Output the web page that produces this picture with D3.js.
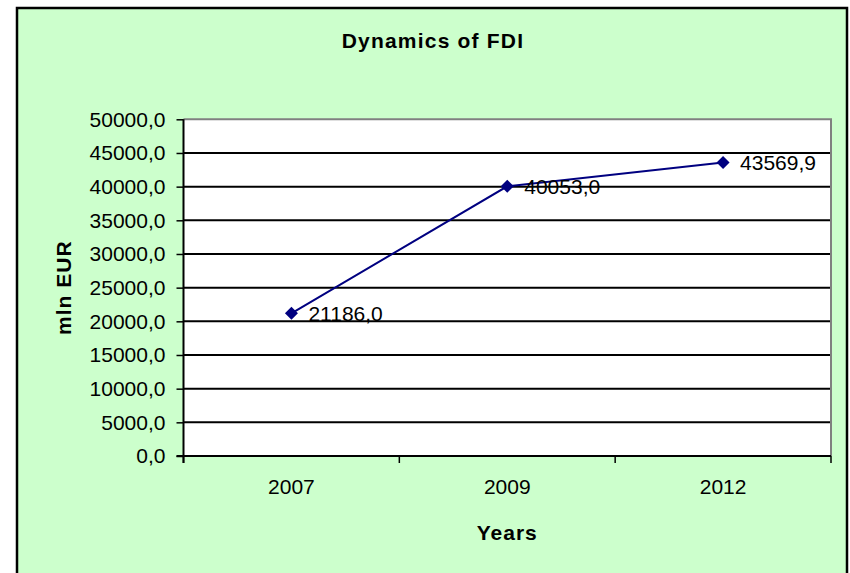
<!DOCTYPE html>
<html>
<head>
<meta charset="utf-8">
<script src="https://cdn.jsdelivr.net/npm/d3@7/dist/d3.min.js"></script>
<style>
  html, body { margin: 0; padding: 0; background: #ffffff; }
  svg { display: block; font-family: Arial, "Liberation Sans", sans-serif; }
</style>
</head>
<body>
<svg id="chart" width="850" height="573"></svg>
<script>
// FDI stock, mln EUR
const years = ["2007", "2009", "2012"];
const fdiValues = [21186.0, 40053.0, 43569.9];
const yTickValues = [0, 5000, 10000, 15000, 20000, 25000, 30000, 35000, 40000, 45000, 50000];

const chartTitle = "Dynamics of FDI";
const xTitle = "Years";
const yTitle = "mln EUR";

const svg = d3.select("#chart");

// decimal comma formatting
const locale = d3.formatLocale({ decimal: ",", thousands: "", grouping: [3], currency: ["", ""] });
const fmt = locale.format(".1f");

// chart area frame
svg.append("rect")
  .attr("x", 17).attr("y", 8)
  .attr("width", 830).attr("height", 620)
  .attr("fill", "#ccffcc")
  .attr("stroke", "#000").attr("stroke-width", 2.5);

const plot = { left: 183.5, right: 831, top: 119.3, bottom: 456 };

const x = d3.scaleBand().domain(years).range([plot.left, plot.right]).paddingInner(0).paddingOuter(0);
const y = d3.scaleLinear().domain([0, 50000]).range([plot.bottom, plot.top]);

// plot background
svg.append("rect")
  .attr("x", plot.left).attr("y", plot.top)
  .attr("width", plot.right - plot.left).attr("height", plot.bottom - plot.top)
  .attr("fill", "#fff");

// horizontal gridlines
svg.append("g")
  .selectAll("line")
  .data(yTickValues.filter(v => v > 0 && v < 50000))
  .join("line")
  .attr("x1", plot.left).attr("x2", plot.right)
  .attr("y1", d => y(d)).attr("y2", d => y(d))
  .attr("stroke", "#000").attr("stroke-width", 2);

// plot border (top/right grey)
svg.append("path")
  .attr("d", `M${plot.left},${plot.top}H${plot.right}V${plot.bottom}`)
  .attr("fill", "none")
  .attr("stroke", "#808080").attr("stroke-width", 2);

// y axis
const yAxis = d3.axisLeft(y).tickValues(yTickValues).tickFormat(fmt).tickSize(7).tickPadding(11);
const gy = svg.append("g").attr("transform", `translate(${plot.left},0)`).call(yAxis);
gy.select(".domain").attr("stroke", "#000").attr("stroke-width", 2).attr("d", `M0,${plot.top}V${plot.bottom + 7}`);
gy.selectAll(".tick line").attr("stroke", "#000").attr("stroke-width", 1.5);
gy.selectAll(".tick text").attr("font-size", 21).attr("fill", "#000")
  .attr("font-family", "Arial, 'Liberation Sans', sans-serif");

// x axis: labels at band centres, ticks at band boundaries
const xAxis = d3.axisBottom(x).tickSize(0).tickPadding(23);
const gx = svg.append("g").attr("transform", `translate(0,${plot.bottom})`).call(xAxis);
gx.select(".domain").remove();
gx.selectAll(".tick text").attr("font-size", 21).attr("fill", "#000")
  .attr("font-family", "Arial, 'Liberation Sans', sans-serif");

const boundaries = years.map(d => x(d)).concat([x.range()[1]]);
svg.append("line")
  .attr("x1", plot.left - 7).attr("x2", plot.right)
  .attr("y1", plot.bottom).attr("y2", plot.bottom)
  .attr("stroke", "#000").attr("stroke-width", 2);
svg.append("g")
  .selectAll("line")
  .data(boundaries)
  .join("line")
  .attr("x1", d => d).attr("x2", d => d)
  .attr("y1", plot.bottom).attr("y2", plot.bottom + 7)
  .attr("stroke", "#000").attr("stroke-width", 1.5);

// series
const points = years.map((d, i) => ({ year: d, value: fdiValues[i] }));
const cx = d => x(d.year) + x.bandwidth() / 2;

svg.append("path")
  .datum(points)
  .attr("fill", "none")
  .attr("stroke", "#000080")
  .attr("stroke-width", 2)
  .attr("d", d3.line().x(cx).y(d => y(d.value)));

svg.append("g")
  .selectAll("path")
  .data(points)
  .join("path")
  .attr("transform", d => `translate(${cx(d)},${y(d.value)})`)
  .attr("d", "M0,-6.5L6.5,0L0,6.5L-6.5,0Z")
  .attr("fill", "#000080");

// value labels
svg.append("g")
  .selectAll("text")
  .data(points)
  .join("text")
  .attr("x", d => cx(d) + 17)
  .attr("y", d => y(d.value))
  .attr("dy", "0.36em")
  .attr("font-size", 21)
  .attr("fill", "#000")
  .text(d => fmt(d.value));

// titles
svg.append("text")
  .attr("x", 433).attr("y", 48)
  .attr("text-anchor", "middle")
  .attr("font-size", 21).attr("font-weight", "bold")
  .attr("letter-spacing", 1.2)
  .text(chartTitle);

svg.append("text")
  .attr("x", (plot.left + plot.right) / 2).attr("y", 540)
  .attr("text-anchor", "middle")
  .attr("font-size", 21).attr("font-weight", "bold")
  .attr("letter-spacing", 1)
  .text(xTitle);

svg.append("text")
  .attr("transform", `translate(71,${(plot.top + plot.bottom) / 2}) rotate(-90)`)
  .attr("text-anchor", "middle")
  .attr("font-size", 21).attr("font-weight", "bold")
  .attr("letter-spacing", 1)
  .text(yTitle);
</script>
</body>
</html>
